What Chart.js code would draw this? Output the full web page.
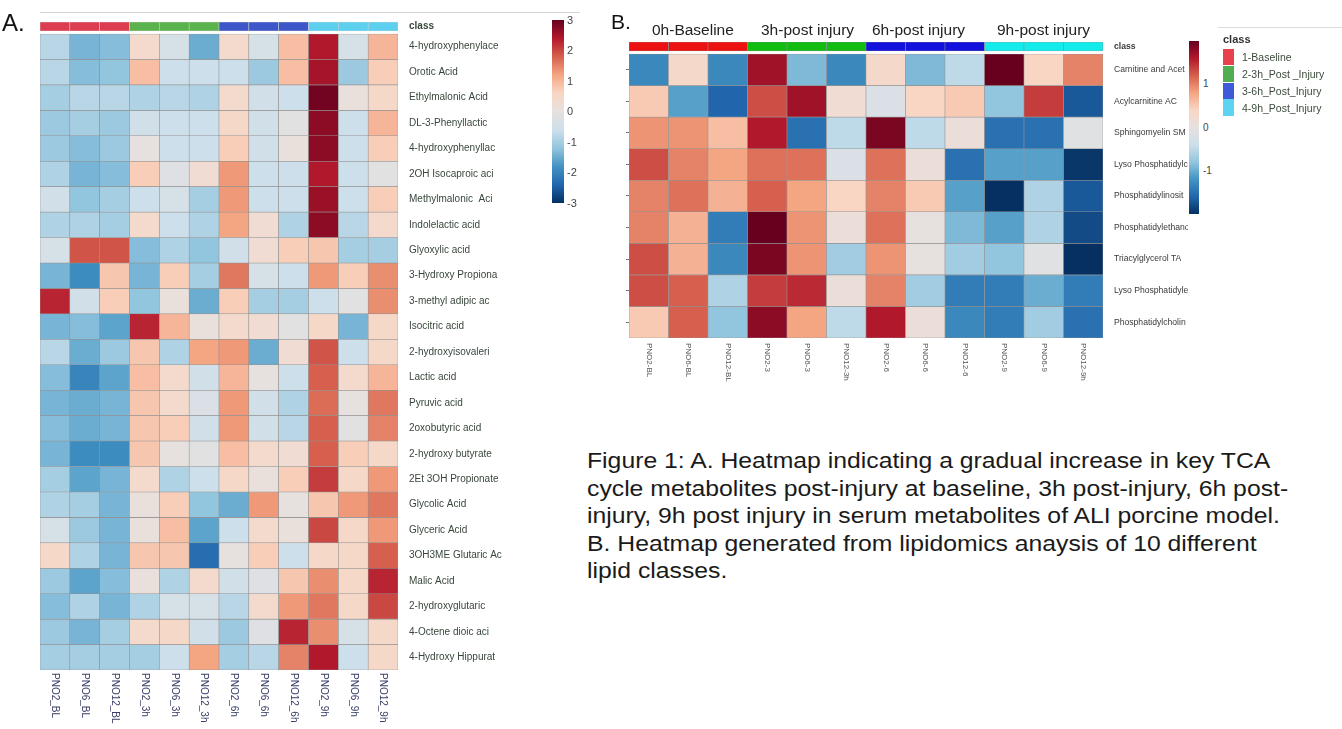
<!DOCTYPE html>
<html>
<head>
<meta charset="utf-8">
<script src="https://cdn.jsdelivr.net/npm/chart.js"></script>
<style>
  body { margin:0; background:#fff; width:1342px; height:729px; position:relative; overflow:hidden; font-family:"Liberation Sans", Arial, sans-serif; color:#222; }
  .t { position:absolute; white-space:nowrap; line-height:1; }
  canvas { position:absolute; }
  .bar { position:absolute; }
</style>
</head>
<body>
<canvas id="chartA" width="580" height="729" style="left:0;top:0"></canvas>
<canvas id="chartB" width="568" height="400" style="left:620px;top:0"></canvas>
<div id="overlay"></div>
<script>
// ---- data: panel A (TCA metabolites, z-score) ----
const colsA = ['PNO2_BL','PNO6_BL','PNO12_BL','PNO2_3h','PNO6_3h','PNO12_3h','PNO2_6h','PNO6_6h','PNO12_6h','PNO2_9h','PNO6_9h','PNO12_9h'];
const rowsA = ['4-hydroxyphenylace','Orotic Acid','Ethylmalonic Acid','DL-3-Phenyllactic','4-hydroxyphenyllac','2OH Isocaproic aci','Methylmalonic  Aci','Indolelactic acid','Glyoxylic acid','3-Hydroxy Propiona','3-methyl adipic ac','Isocitric acid','2-hydroxyisovaleri','Lactic acid','Pyruvic acid','2oxobutyric acid','2-hydroxy butyrate','2Et 3OH Propionate','Glycolic Acid','Glyceric Acid','3OH3ME Glutaric Ac','Malic Acid','2-hydroxyglutaric','4-Octene dioic aci','4-Hydroxy Hippurat'];
const valuesA = [
  [-0.8,-1.4,-1.3, 0.4,-0.4,-1.5, 0.4,-0.4, 0.9, 2.4,-0.4, 1.0],
  [-0.8,-1.3,-1.2, 0.9,-0.6,-0.6,-0.6,-1.1, 0.9, 2.5,-1.1, 0.7],
  [-1.0,-0.8,-0.8,-0.9,-0.8,-0.9, 0.4,-0.5,-0.6, 2.9, 0.1, 0.5],
  [-1.1,-1.0,-1.1,-0.5,-0.6,-0.6, 0.5,-0.5,-0.1, 2.7,-0.6, 1.0],
  [-1.1,-1.3,-1.1, 0.0,-0.6,-0.6, 0.7,-0.5, 0.1, 2.7,-0.6, 0.7],
  [-0.9,-1.4,-1.3, 0.7,-0.2, 0.3, 1.3,-0.6,-0.6, 2.4,-0.6,-0.1],
  [-0.5,-1.2,-1.0,-0.6,-0.4,-1.0, 1.3,-0.6,-0.6, 2.6,-0.6, 0.7],
  [-0.9,-0.9,-1.0, 0.4,-0.6,-0.9, 1.2, 0.3,-0.9, 2.7,-0.8, 0.4],
  [-0.4, 1.9, 1.9,-1.3,-0.9,-1.2,-0.5, 0.3, 0.7, 0.8,-1.0,-1.0],
  [-1.4,-1.9, 0.8,-1.4, 0.7,-1.0, 1.6,-0.4,-0.6, 1.3, 0.7, 1.4],
  [ 2.3,-0.5, 0.7,-1.2, 0.1,-1.5, 0.7,-1.0,-1.0,-0.6,-0.1, 1.4],
  [-1.4,-1.3,-1.6, 2.3, 1.0, 0.1, 0.4, 0.3,-0.1, 0.5,-1.4, 0.5],
  [-0.8,-1.5,-1.1, 0.8,-0.9, 1.2, 1.3,-1.5, 0.3, 1.9,-0.6, 0.5],
  [-1.3,-2.0,-1.6, 0.9, 0.4,-0.5, 1.0, 0.0,-0.6, 1.8, 0.4, 1.0],
  [-1.4,-1.5,-1.4, 0.8, 0.4,-0.3, 1.3,-0.5,-0.9, 1.7, 0.0, 1.6],
  [-1.3,-1.5,-1.4, 0.8, 0.7,-0.5, 1.3,-0.5,-0.8, 1.8,-0.1, 1.5],
  [-1.4,-1.9,-1.9, 0.8, 0.0,-0.1, 0.9, 0.4, 0.3, 1.8, 0.7, 0.5],
  [-1.0,-1.6,-1.4, 0.4,-0.9,-0.6, 0.5, 0.1, 0.7, 2.1, 0.5, 1.3],
  [-0.9,-1.0,-1.4, 0.1, 0.7,-1.2,-1.5, 1.3, 0.0, 0.8, 1.3, 1.6],
  [-0.4,-1.1,-1.4, 0.1, 0.9,-1.6,-0.6, 0.4, 0.1, 2.0, 0.5, 1.3],
  [ 0.5,-0.9,-1.4, 0.8, 0.8,-2.3, 0.0, 0.7,-0.6, 0.5, 0.5, 1.8],
  [-1.1,-1.6,-1.3, 0.1,-0.9, 0.4,-0.5,-0.2, 0.8, 1.4, 0.5, 2.3],
  [-1.3,-0.9,-1.4,-0.9,-0.4,-0.4,-0.8, 0.4, 1.3, 1.6, 0.5, 2.0],
  [-1.1,-1.4,-1.0, 0.4, 0.5,-0.5,-1.1,-0.2, 2.3, 1.4,-0.4, 0.5],
  [-1.0,-1.0,-1.0,-1.0,-0.6, 1.2,-1.0,-0.8, 1.5, 2.4,-0.6, 0.5]
];
const scaleTicksA = [3, 2, 1, 0, -1, -2, -3];
const classColorsA = ['#dc3d4f', '#5bb34e', '#3d56c9', '#5dd0f0'];

// ---- data: panel B (lipid classes) ----
const colsB = ['PNO2-BL','PNO6-BL','PNO12-BL','PNO2-3','PNO6-3','PNO12-3h','PNO2-6','PNO6-6','PNO12-6','PNO2-9','PNO6-9','PNO12-9h'];
const rowsB = ['Carnitine and Acet','Acylcarnitine AC','Sphingomyelin SM','Lyso Phosphatidylc','Phosphatidylinosit','Phosphatidylethano','Triacylglycerol TA','Lyso Phosphatidyle','Phosphatidylcholin'];
const valuesB = [
  [-1.3, 0.3,-1.3, 1.7,-0.9,-1.3, 0.3,-0.9,-0.5, 2.0, 0.4, 1.0],
  [ 0.5,-1.1,-1.6, 1.3, 1.7, 0.2,-0.2, 0.4, 0.5,-0.8, 1.4,-1.7],
  [ 0.9, 0.9, 0.6, 1.6,-1.5,-0.5, 1.9,-0.5, 0.1,-1.5,-1.5,-0.1],
  [ 1.3, 1.0, 0.8, 1.1, 1.1,-0.2, 1.1, 0.1,-1.5,-1.1,-1.1,-1.95],
  [ 1.0, 1.1, 0.7, 1.2, 0.8, 0.4, 1.0, 0.5,-1.1,-2.0,-0.6,-1.7],
  [ 1.0, 0.7,-1.4, 2.0, 0.9, 0.1, 1.1, 0.0,-0.9,-1.1,-0.6,-1.8],
  [ 1.3, 0.7,-1.3, 1.9, 0.9,-0.7, 0.9, 0.0,-0.7,-0.8,-0.1,-2.0],
  [ 1.3, 1.2,-0.6, 1.4, 1.5, 0.1, 1.0,-0.7,-1.4,-1.4,-1.0,-1.4],
  [ 0.5, 1.2,-0.8, 1.8, 0.8,-0.5, 1.6, 0.1,-1.3,-1.4,-0.7,-1.5]
];
const scaleTicksB = [1, 0, -1];
const groupsB = ['0h-Baseline', '3h-post injury', '6h-post injury', '9h-post injury'];
const classColorsB = ['#ec1212', '#12bd12', '#1212dc', '#14ecec'];
const legendLabels = ['1-Baseline', '2-3h_Post _Injury', '3-6h_Post_Injury', '4-9h_Post_Injury'];
const legendColors = ['#e8414d', '#50ae50', '#3d5bd8', '#5bd3f1'];

// red-blue diverging palette, low -> high
const STOPS = ['#053061','#2166ac','#4393c3','#92c5de','#cddfeb','#e6e1df','#f9d6c4','#f4a582','#d6604d','#b2182b','#67001f'];
const FONT = '"Liberation Sans", Arial, sans-serif';

function hex(c) { return [1, 3, 5].map(i => parseInt(c.substr(i, 2), 16)); }
function heat(v, vmax) {
  let t = Math.max(0, Math.min(1, (v / vmax + 1) / 2)) * (STOPS.length - 1);
  const i = Math.min(Math.floor(t), STOPS.length - 2), f = t - i;
  const a = hex(STOPS[i]), b = hex(STOPS[i + 1]);
  return 'rgb(' + a.map((x, k) => Math.round(x + (b[k] - x) * f)).join(',') + ')';
}

function colLabels(o) {
  return {
    id: 'colLabels',
    afterDraw(chart) {
      const ctx = chart.ctx, x = chart.scales.x;
      ctx.save();
      ctx.font = o.colFont;
      ctx.fillStyle = o.colColor;
      ctx.textBaseline = 'middle';
      o.cols.forEach((c, j) => {
        ctx.save();
        ctx.translate(x.getPixelForValue(j), chart.chartArea.bottom + o.colGap);
        ctx.rotate(Math.PI / 2);
        ctx.fillText(c, 0, 0);
        ctx.restore();
      });
      ctx.restore();
    }
  };
}

function heatChart(id, o) {
  const n = o.rows.length;
  const rowTicks = () => o.rows.map((r, i) => ({ value: i + 0.5 }));
  const datasets = [{
    data: o.cols.map(() => [o.classTop, o.classBottom]),
    backgroundColor: o.cols.map((c, j) => o.classColors[Math.floor(j / 3)]),
    borderColor: o.classBorder, borderWidth: 0.6
  }].concat(o.values.map((row, i) => ({
    data: row.map(() => [i, i + 1]),
    backgroundColor: row.map(v => heat(v, o.vmax)),
    borderColor: '#929292', borderWidth: 0.6
  })));
  datasets.forEach(d => Object.assign(d, { yAxisID: 'y', grouped: false, barPercentage: 1, categoryPercentage: 1, borderSkipped: false }));

  const scales = {
    x: { display: false },
    y: {
      position: 'right', reverse: true, min: o.classTop, max: n,
      afterBuildTicks: s => { s.ticks = [{ value: (o.classTop + o.classBottom) / 2 }].concat(rowTicks()); },
      afterFit: s => { s.width = o.axisW; },
      grid: { display: false }, border: { display: false },
      ticks: {
        autoSkip: false, padding: o.labelPad, color: o.labelColor,
        font: c => ({ family: o.labelFamily, size: o.labelSize, weight: c.tick && c.tick.value < 0 ? 'bold' : 'normal' }),
        callback: v => v < 0 ? 'class' : o.rows[Math.floor(v)]
      }
    }
  };
  if (o.leftTicks) {
    scales.yl = {
      position: 'left', reverse: true, min: o.classTop, max: n,
      afterBuildTicks: s => { s.ticks = rowTicks(); },
      afterFit: s => { s.width = 3; },
      grid: { drawOnChartArea: false, tickLength: 3, color: '#777' }, border: { display: false },
      ticks: { padding: 0, callback: () => '' }
    };
  }

  return new Chart(document.getElementById(id), {
    type: 'bar',
    data: { labels: o.cols, datasets },
    options: {
      responsive: false, animation: false, devicePixelRatio: 1,
      layout: { padding: o.pad },
      plugins: { legend: { display: false }, tooltip: { enabled: false } },
      scales
    },
    plugins: [colLabels(o)]
  });
}

heatChart('chartA', {
  cols: colsA, rows: rowsA, values: valuesA, vmax: 3,
  classColors: classColorsA, classBorder: '#cfcfcf',
  classTop: -0.4717, classBottom: -0.118,
  pad: { left: 40, top: 22, right: 0, bottom: 59 }, axisW: 182,
  labelPad: 3, labelSize: 10, labelColor: '#38463a', labelFamily: FONT,
  colFont: '10px ' + FONT, colColor: '#3a3f68', colGap: 3
});

heatChart('chartB', {
  cols: colsB, rows: rowsB, values: valuesB, vmax: 2,
  classColors: classColorsB, classBorder: '#8a8a8a',
  classTop: -0.38, classBottom: -0.095, leftTicks: true,
  pad: { left: 6, top: 42, right: 0, bottom: 62 }, axisW: 85,
  labelPad: 3, labelSize: 8.6, labelColor: '#3a3a3a', labelFamily: FONT,
  colFont: '8px ' + FONT, colColor: '#555', colGap: 5
});

// ---- text, colour bars, legend ----
const ov = document.getElementById('overlay');
function text(str, left, baseline, size, extra) {
  const d = document.createElement('div');
  d.className = 't';
  d.textContent = str;
  d.style.left = left + 'px';
  d.style.top = (baseline - 0.8465 * size) + 'px';
  d.style.fontSize = size + 'px';
  Object.assign(d.style, extra || {});
  ov.appendChild(d);
  return d;
}
function box(left, top, w, h, bg) {
  const d = document.createElement('div');
  d.className = 'bar';
  Object.assign(d.style, { left: left + 'px', top: top + 'px', width: w + 'px', height: h + 'px', background: bg });
  ov.appendChild(d);
  return d;
}
const grad = 'linear-gradient(to bottom,' + STOPS.slice().reverse().join(',') + ')';

box(40, 12, 540, 1, '#d6d6d6');
text('A.', 2, 31.7, 24, { color: '#111' });
box(552, 20, 12, 183, grad);
scaleTicksA.forEach(v => text(String(v), 567, 20 + (3 - v) / 6 * 183 + 4, 11, { color: '#444' }));

text('B.', 611, 28.3, 21, { color: '#111' });
const gx = [652, 761, 872, 997];
groupsB.forEach((g, i) => text(g, gx[i], 35, 15.5, { color: '#222' }));
box(1189, 41, 10, 173, grad);
scaleTicksB.forEach(v => text(String(v), 1203, 41 + (2 - v) / 4 * 173 + 3.5, 10, { color: '#444' }));

box(1218, 27, 124, 1, '#dcdcdc');
text('class', 1223, 43, 11, { fontWeight: 'bold', color: '#333' });
legendLabels.forEach((l, i) => {
  box(1223, 49.3 + i * 16.7, 11, 16.2, legendColors[i]);
  text(l, 1242, 49.3 + i * 16.7 + 12, 10.5, { color: '#3a4a3a' });
});

const cap = document.createElement('div');
cap.className = 't';
cap.innerHTML = 'Figure 1: A. Heatmap indicating a gradual increase in key TCA<br>cycle metabolites post-injury at baseline, 3h post-injury, 6h post-<br>injury, 9h post injury in serum metabolites of ALI porcine model.<br>B. Heatmap generated from lipidomics anaysis of 10 different<br>lipid classes.';
Object.assign(cap.style, { left: '587px', top: '447px', fontSize: '22px', lineHeight: '27.5px', color: '#1a1a1a', transform: 'scaleX(1.125)', transformOrigin: 'left top' });
ov.appendChild(cap);
</script>
</body>
</html>
